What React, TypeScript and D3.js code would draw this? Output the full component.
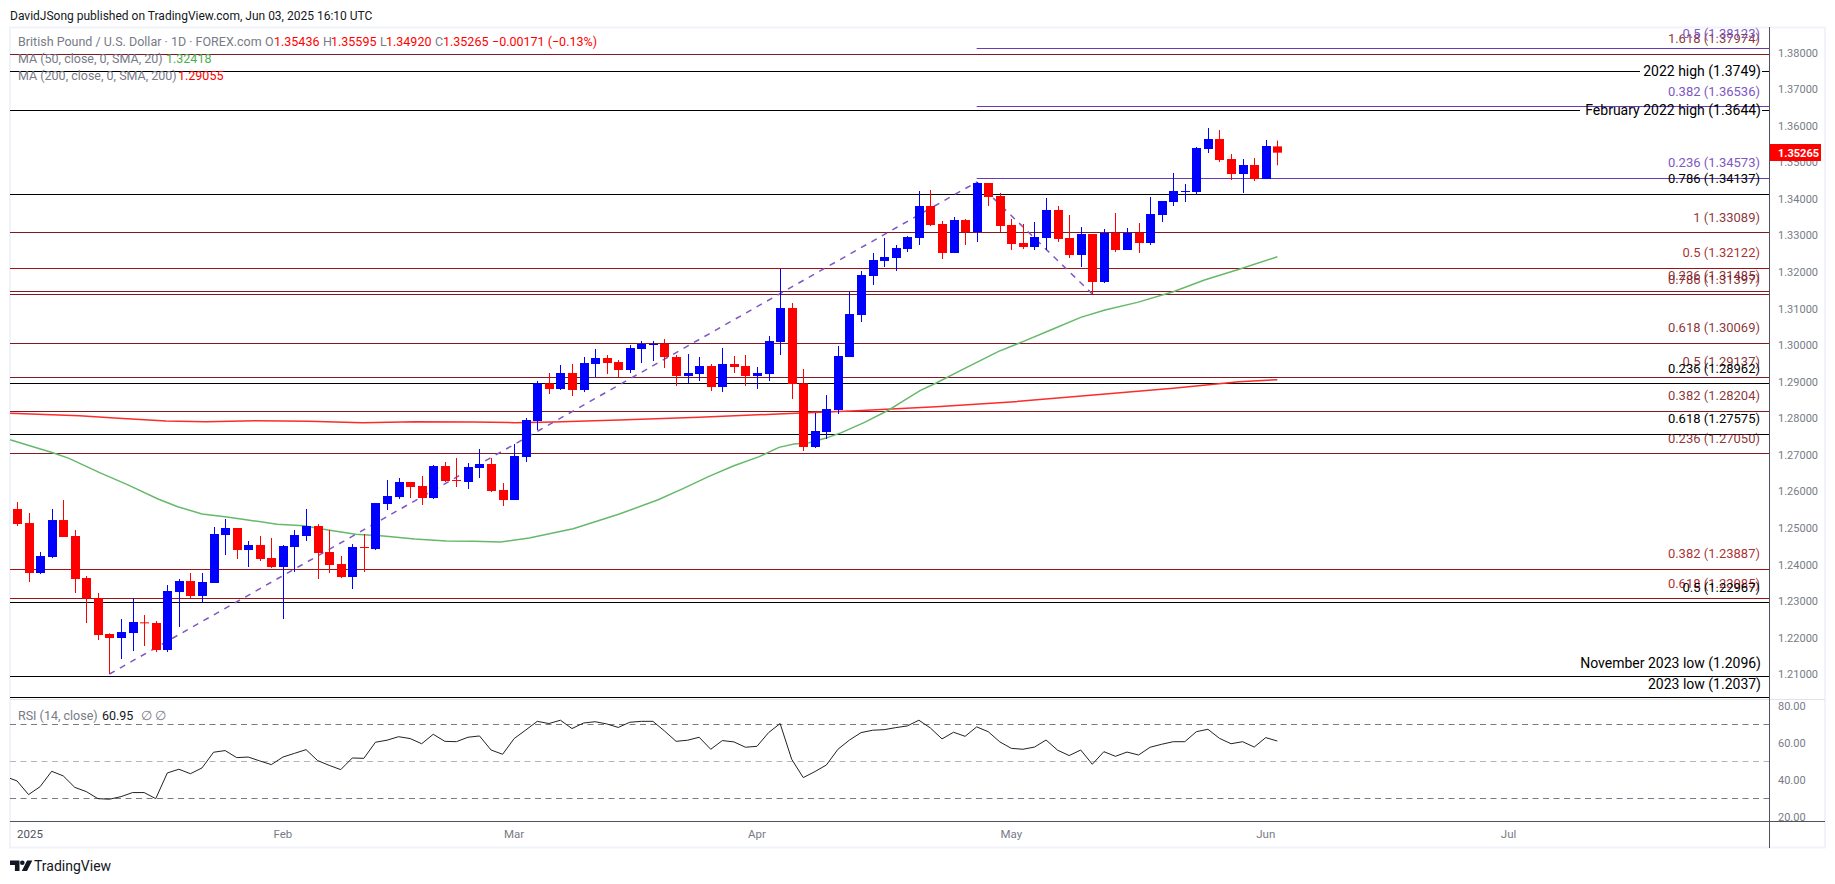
import React from 'react';
import * as d3 from 'd3';

const WIDTH = 1835;
const HEIGHT = 884;
const AXIS_X = 1769;
const BODY_W = 9;

// daily candles, Jan 2025 to Jun 03 2025
const opens = [
  1.25519, 1.25136, 1.23769, 1.24207, 1.25218, 1.24781, 1.23632, 1.23076, 1.22101, 1.21991,
  1.22128, 1.2242, 1.22402, 1.21663, 1.23249, 1.2355, 1.2314, 1.23496, 1.24808, 1.25,
  1.24398, 1.24535, 1.24179, 1.23933, 1.2448, 1.24781, 1.25054, 1.24343, 1.24015, 1.2366,
  1.2448, 1.24425, 1.25656, 1.25847, 1.26258, 1.26148, 1.2582, 1.26695, 1.26312, 1.26258,
  1.26641, 1.2675, 1.26039, 1.25765, 1.26941, 1.27926, 1.28956, 1.28801, 1.29239, 1.28774,
  1.29485, 1.29649, 1.29539, 1.29321, 1.29895, 1.30005, 1.30032, 1.29676, 1.29157, 1.29211,
  1.2943, 1.28856, 1.29485, 1.2943, 1.29157, 1.29211, 1.30087, 1.31016, 1.28956, 1.27215,
  1.27625, 1.28227, 1.29676, 1.30825, 1.31892, 1.32302, 1.32384, 1.3263, 1.32931, 1.33806,
  1.33314, 1.32521, 1.33423, 1.33095, 1.34435, 1.3408, 1.33286, 1.32794, 1.32685, 1.32931,
  1.33697, 1.32931, 1.32466, 1.3304, 1.31728, 1.33068, 1.32603, 1.33068, 1.32794, 1.3356,
  1.33915, 1.34189, 1.34189, 1.35365, 1.35638, 1.35091, 1.34681, 1.34927, 1.34544, 1.35436,
];
const highs = [
  1.25711, 1.2541, 1.24343, 1.25519, 1.25765, 1.24945, 1.23687, 1.23222, 1.22119, 1.22511,
  1.23076, 1.2262, 1.22456, 1.23441, 1.23605, 1.23769, 1.23769, 1.25027, 1.25246, 1.25,
  1.24644, 1.24781, 1.24726, 1.24535, 1.24945, 1.25519, 1.25109, 1.24945, 1.24234, 1.24562,
  1.24836, 1.25683, 1.26312, 1.26367, 1.26258, 1.26422, 1.26723, 1.26805, 1.26914, 1.26777,
  1.2716, 1.26914, 1.2623, 1.27297, 1.28008, 1.2902, 1.29239, 1.29457, 1.29485, 1.29676,
  1.29895, 1.29731, 1.29594, 1.30005, 1.30114, 1.30114, 1.30169, 1.29731, 1.29758, 1.29676,
  1.29485, 1.29922, 1.29704, 1.29731, 1.29403, 1.30251, 1.32083, 1.31153, 1.29348, 1.28145,
  1.28637, 1.29977, 1.31454, 1.32028, 1.32521, 1.32931, 1.32739, 1.32985, 1.34216, 1.34244,
  1.33396, 1.33505, 1.33451, 1.34462, 1.34435, 1.34162, 1.33451, 1.33314, 1.33369, 1.34025,
  1.33806, 1.3356, 1.33232, 1.3304, 1.33177, 1.33615, 1.33204, 1.33341, 1.34052, 1.33943,
  1.34709, 1.34408, 1.3542, 1.35939, 1.35885, 1.35228, 1.35091, 1.35119, 1.35611, 1.35595,
];
const lows = [
  1.25054, 1.23523, 1.23742, 1.24179, 1.24754, 1.23222, 1.22402, 1.21937, 1.21007, 1.21417,
  1.21636, 1.21773, 1.21608, 1.21608, 1.22292, 1.23085, 1.22958, 1.23496, 1.24261, 1.24152,
  1.23933, 1.24097, 1.23906, 1.22511, 1.23796, 1.24644, 1.23605, 1.23769, 1.23632, 1.23331,
  1.23796, 1.24398, 1.25492, 1.25793, 1.2582, 1.25629, 1.25793, 1.26258, 1.26121, 1.26066,
  1.26367, 1.25984, 1.25601, 1.25765, 1.26805, 1.2768, 1.28664, 1.28774, 1.2861, 1.28719,
  1.29129, 1.29211, 1.29129, 1.29239, 1.29512, 1.29567, 1.29376, 1.28883, 1.28956, 1.2902,
  1.28747, 1.28719, 1.29239, 1.28883, 1.28801, 1.2902, 1.29731, 1.28528, 1.27106, 1.27188,
  1.27434, 1.28118, 1.29676, 1.30634, 1.31645, 1.32138, 1.32028, 1.32548, 1.3274, 1.33259,
  1.32357, 1.32521, 1.3274, 1.32822, 1.33806, 1.33095, 1.32603, 1.3263, 1.32603, 1.32603,
  1.32822, 1.32384, 1.32138, 1.314, 1.317, 1.32548, 1.32603, 1.32521, 1.3274, 1.33369,
  1.33806, 1.33915, 1.34107, 1.35256, 1.35009, 1.34517, 1.34162, 1.3449, 1.34544, 1.3492,
];
const closes = [
  1.25109, 1.23769, 1.24234, 1.25218, 1.24754, 1.23605, 1.23076, 1.22073, 1.21991, 1.22155,
  1.22429, 1.22402, 1.21663, 1.23277, 1.2355, 1.2314, 1.23523, 1.24836, 1.25, 1.24398,
  1.24535, 1.24152, 1.23933, 1.24507, 1.24808, 1.25054, 1.24316, 1.23988, 1.2366, 1.2448,
  1.24453, 1.25683, 1.25875, 1.26258, 1.26121, 1.2582, 1.26695, 1.26285, 1.26285, 1.26668,
  1.2675, 1.26012, 1.25765, 1.26969, 1.27953, 1.28956, 1.28801, 1.29239, 1.28774, 1.29512,
  1.29649, 1.29512, 1.29321, 1.29922, 1.30032, 1.30032, 1.29676, 1.29157, 1.29239, 1.2943,
  1.28856, 1.29485, 1.29403, 1.29157, 1.29239, 1.30114, 1.31016, 1.28938, 1.27215, 1.27653,
  1.28254, 1.29704, 1.30852, 1.31919, 1.32329, 1.32411, 1.32657, 1.32958, 1.33806, 1.33286,
  1.32521, 1.33423, 1.33095, 1.34435, 1.34052, 1.33259, 1.32767, 1.32685, 1.32958, 1.33697,
  1.32904, 1.32466, 1.3304, 1.31728, 1.33068, 1.32603, 1.33068, 1.32794, 1.33587, 1.33943,
  1.34216, 1.34216, 1.35392, 1.35638, 1.35064, 1.34681, 1.34927, 1.34544, 1.35447, 1.35265,
];

// first entry sits one bar left of the first candle, cut by the pane edge
const rsiValues = [
  41.7, 39.4, 32, 36.3, 44.6, 42.1, 35.9, 33.6, 29.8, 29.5, 30.9,
  33.1, 33.1, 29.8, 43.7, 45.7, 43.3, 46.4, 54.9, 55.8, 52,
  52.3, 50.2, 48.2, 52.3, 54.3, 56.3, 50.4, 47.8, 45.5, 51.8,
  51.6, 60.3, 61.4, 63.3, 62.3, 59.5, 64.6, 60.8, 60.6, 63,
  63.7, 56.1, 53.8, 62.3, 66.9, 71.6, 70.4, 72.2, 67.7, 70.7,
  71.4, 70.2, 68.3, 71.1, 71.6, 71.6, 66.4, 60.8, 61.4, 63,
  56.5, 61.2, 60.5, 57.6, 58.1, 65.5, 70.4, 51.1, 41.2, 44.4,
  48, 56.5, 61.5, 65.5, 66.8, 67.1, 68.2, 69.1, 72.2, 68,
  62.1, 65.7, 63.5, 68.6, 66, 60.5, 57, 56.5, 57.7, 61.5,
  56, 53.1, 56.1, 48.4, 55.2, 52.7, 55, 53.4, 57.6, 59.2,
  60.6, 60.6, 66, 67.3, 62.4, 59.5, 60.6, 57.7, 62.8, 60.95,
];

const ma50Bars = [
  -0.6, 1.1, 3.1, 4.5, 7.1, 9.5, 12.2, 13.9, 16, 18, 20.4, 22.5, 24.8, 26.9, 29.3, 31.7, 34.4, 37.1, 39.5, 41.8,
  44.3, 48.1, 52.1, 55.4, 57.6, 59.8, 62, 64.2, 65.9, 67.2, 68.5, 69.9, 71.3, 73.3, 75.4, 76.7, 78.1, 79.5, 81.8,
  84.9, 87, 89.4, 92, 94.1, 96.9, 100, 102.7, 105.7, 109,
];
const ma50Values = [
  1.27415, 1.27251, 1.2706, 1.26905, 1.26522, 1.26194, 1.25793, 1.25583, 1.25383, 1.2531, 1.252, 1.251, 1.25063,
  1.24945, 1.24826, 1.24781, 1.24699, 1.24644, 1.24635, 1.24617, 1.24726, 1.24981, 1.25383, 1.25766, 1.26076,
  1.26404, 1.26704, 1.26951, 1.27206, 1.27297, 1.27334, 1.27452, 1.27607, 1.2789, 1.28227, 1.28482, 1.28756,
  1.28965, 1.29339, 1.29831, 1.30096, 1.30415, 1.30761, 1.30962, 1.31171, 1.31463, 1.31782, 1.32074, 1.32418,
];
const ma200Bars = [-0.6, 5.4, 8.8, 12.9, 16.3, 20.7, 25.2, 29.9, 34.4, 39.5, 43, 46.4, 52.1, 59, 65.8, 72.6, 79.5, 86.3, 93.1, 100, 105.7, 109];
const ma200Values = [
  1.28136, 1.28072, 1.27999, 1.27926, 1.27908, 1.27935, 1.27917, 1.2788, 1.27908, 1.27899, 1.2788, 1.27899, 1.27955,
  1.28026, 1.28118, 1.28209, 1.28318, 1.28455, 1.28637, 1.28819, 1.29002, 1.29055,
];

// dashed swing lines behind the fib levels
const swingBars = [8, 83, 93];
const swingPrices = [1.21007, 1.3446, 1.314];

const priceTicks = [1.21, 1.22, 1.23, 1.24, 1.25, 1.26, 1.27, 1.28, 1.29, 1.3, 1.31, 1.32, 1.33, 1.34, 1.35, 1.36, 1.37, 1.38];
const rsiTicks = [20, 40, 60, 80];
const rsiBands = [70, 50, 30];
const monthBars = [23, 43, 64, 86, 108, 129];
const monthLabels = ['Feb', 'Mar', 'Apr', 'May', 'Jun', 'Jul'];

const MAROON = '#801922';
const DEEP_RED = '#a31212';
const PURPLE = '#673ab7';
const BLACK = '#000000';

const levelPrices = [1.37974, 1.33089, 1.32122, 1.31485, 1.31397, 1.30069, 1.29137, 1.28204, 1.2705, 1.23887, 1.23085, 1.34137, 1.28962, 1.27575, 1.22967];
const levelTags = ['1.618', '1', '0.5', '0.236', '0.786', '0.618', '0.5', '0.382', '0.236', '0.382', '0.618', '0.786', '0.236', '0.618', '0.5'];
const levelColors = [MAROON, MAROON, DEEP_RED, MAROON, MAROON, MAROON, MAROON, MAROON, MAROON, DEEP_RED, DEEP_RED, BLACK, BLACK, BLACK, BLACK];

const extPrices = [1.38123, 1.36536, 1.34573];
const extTags = ['0.5', '0.382', '0.236'];

const namedPrices = [1.3749, 1.3644, 1.2096, 1.2037];
const namedLabels = ['2022 high (1.3749)', 'February 2022 high (1.3644)', 'November 2023 low (1.2096)', '2023 low (1.2037)'];
const namedGapStart = [1640, 1580, null, null];

const FONT = 'Roboto, sans-serif';

const x = d3.scaleLinear().domain([0, 109]).range([17, 1277.3]);
const y = d3.scaleLinear().domain([1.3749, 1.2037]).range([71.3, 697.3]);
const rsiY = d3.scaleLinear().domain([70, 30]).range([724.3, 798.3]);

const crisp = (v: number) => Math.round(v) + 0.5;

const rsiLine = d3
  .line<number>()
  .x((_, i) => x(i - 1))
  .y((d) => rsiY(d));
const maLine = (bars: number[]) =>
  d3
    .line<number>()
    .x((_, i) => x(bars[i]))
    .y((d) => y(d));

const App: React.FC = () => {
  return (
    <svg
      width={WIDTH}
      height={HEIGHT}
      viewBox={`0 0 ${WIDTH} ${HEIGHT}`}
      style={{ position: 'absolute', left: 0, top: 0, display: 'block', background: '#fff' }}
      fontFamily={FONT}
    >
      <defs>
        <clipPath id="pane">
          <rect x={10} y={27} width={AXIS_X - 10} height={794} />
        </clipPath>
      </defs>

      <text x={10} y={19.5} fontSize={12} fill="#131722">
        DavidJSong published on TradingView.com, Jun 03, 2025 16:10 UTC
      </text>

      {/* frame */}
      <rect x={10} y={27.5} width={1815} height={820} fill="none" stroke="#f0f3fa" strokeWidth={2} />

      {/* horizontal levels */}
      {levelPrices.map((p, i) => (
        <line key={`l${i}`} x1={10} x2={AXIS_X} y1={crisp(y(p))} y2={crisp(y(p))} stroke={levelColors[i]} strokeWidth={1} />
      ))}
      {extPrices.map((p, i) => (
        <line key={`e${i}`} x1={x(83)} x2={AXIS_X} y1={crisp(y(p))} y2={crisp(y(p))} stroke={PURPLE} strokeWidth={1} />
      ))}
      {namedPrices.map((p, i) => {
        const gap = namedGapStart[i];
        const yy = crisp(y(p));
        return gap === null ? (
          <line key={`n${i}`} x1={10} x2={AXIS_X} y1={yy} y2={yy} stroke={BLACK} strokeWidth={1} />
        ) : (
          <g key={`n${i}`}>
            <line x1={10} x2={gap} y1={yy} y2={yy} stroke={BLACK} strokeWidth={1} />
            <line x1={1762} x2={AXIS_X} y1={yy} y2={yy} stroke={BLACK} strokeWidth={1} />
          </g>
        );
      })}

      {/* moving averages */}
      <path d={maLine(ma200Bars)(ma200Values) ?? ''} fill="none" stroke="#ff2a2a" strokeWidth={1.5} />
      <path d={maLine(ma50Bars)(ma50Values) ?? ''} fill="none" stroke="#66b96a" strokeWidth={1.5} />

      {/* swing lines */}
      <path
        d={
          d3
            .line<number>()
            .x((_, i) => x(swingBars[i]))
            .y((d) => y(d))(swingPrices) ?? ''
        }
        fill="none"
        stroke="#7e57c2"
        strokeWidth={1.5}
        strokeDasharray="6 6"
      />

      {/* candles */}
      {closes.map((c, i) => {
        const o = opens[i];
        const color = c >= o ? '#0000ff' : '#ff0000';
        const top = y(Math.max(o, c));
        const bottom = y(Math.min(o, c));
        const cx = Math.round(x(i));
        return (
          <g key={`c${i}`} fill={color}>
            <rect x={cx} y={y(highs[i])} width={1} height={y(lows[i]) - y(highs[i])} />
            <rect x={cx - (BODY_W - 1) / 2} y={top} width={BODY_W} height={Math.max(bottom - top, 1)} />
          </g>
        );
      })}

      {/* level labels */}
      <g fontSize={13} textAnchor="end">
        {levelPrices.map((p, i) => (
          <text key={`lt${i}`} x={1760} y={y(p) - 10.5} fill={levelColors[i]} fillOpacity={levelColors[i] === BLACK ? 1 : 0.9}>
            {`${levelTags[i]} (${p.toFixed(5)})`}
          </text>
        ))}
        {extPrices.map((p, i) => (
          <text key={`et${i}`} x={1760} y={y(p) - 10.5} fill="#7e57c2">
            {`${extTags[i]} (${p.toFixed(5)})`}
          </text>
        ))}
      </g>
      <g fontSize={14} textAnchor="end">
        {namedPrices.map((p, i) => (
          <text key={`nt${i}`} x={1761} y={namedGapStart[i] === null ? y(p) - 8 : y(p) + 5} fill={BLACK}>
            {namedLabels[i]}
          </text>
        ))}
      </g>

      {/* legend */}
      <g fontSize={12.5} fill="#787b86">
        <text x={18} y={46}>British Pound / U.S. Dollar · 1D · FOREX.com</text>
        <text x={265} y={46}>O</text>
        <text x={274} y={46} fill="#ff0000">1.35436</text>
        <text x={323} y={46}>H</text>
        <text x={331} y={46} fill="#ff0000">1.35595</text>
        <text x={380} y={46}>L</text>
        <text x={386} y={46} fill="#ff0000">1.34920</text>
        <text x={435} y={46}>C</text>
        <text x={443} y={46} fill="#ff0000">1.35265</text>
        <text x={492} y={46} fill="#ff0000">−0.00171 (−0.13%)</text>
        <text x={18} y={63}>MA (50, close, 0, SMA, 20)</text>
        <text x={166} y={63} fill="#4caf50">1.32418</text>
        <text x={18} y={80}>MA (200, close, 0, SMA, 200)</text>
        <text x={178} y={80} fill="#ff0000">1.29055</text>
      </g>

      {/* price axis */}
      <g fontSize={11} fill="#787b86">
        {priceTicks.map((t) => (
          <text key={t} x={1778} y={y(t) + 4}>
            {t.toFixed(5)}
          </text>
        ))}
      </g>
      <rect x={1770} y={144} width={51} height={17} fill="#ff0000" />
      <text x={1778} y={157} fontSize={11} fontWeight={700} fill="#fff">
        {closes[closes.length - 1].toFixed(5)}
      </text>

      {/* RSI pane */}
      <line x1={10} x2={1825} y1={699.5} y2={699.5} stroke="#e0e3eb" />
      {rsiBands.map((b) => (
        <line
          key={b}
          x1={10}
          x2={AXIS_X}
          y1={crisp(rsiY(b))}
          y2={crisp(rsiY(b))}
          stroke={b === 50 ? '#b2b5be' : '#787b86'}
          strokeDasharray="6 4.5"
        />
      ))}
      <path d={rsiLine(rsiValues) ?? ''} fill="none" stroke="#222" strokeWidth={1} clipPath="url(#pane)" />
      <g fontSize={12.5}>
        <text x={18} y={720} fill="#787b86">RSI (14, close)</text>
        <text x={102} y={720} fill="#131722">60.95</text>
        <text x={141} y={720} fill="#787b86">∅</text>
        <text x={155} y={720} fill="#787b86">∅</text>
      </g>
      <g fontSize={11} fill="#787b86">
        {rsiTicks.map((t) => (
          <text key={t} x={1778} y={rsiY(t) + 4}>
            {t.toFixed(2)}
          </text>
        ))}
      </g>

      {/* axis lines */}
      <line x1={AXIS_X + 0.5} x2={AXIS_X + 0.5} y1={27} y2={848} stroke="#50535e" />
      <line x1={10} x2={1825} y1={821.5} y2={821.5} stroke="#50535e" />

      {/* time axis */}
      <g fontSize={11.5} fill="#787b86" textAnchor="middle">
        <text x={17} y={838} textAnchor="start" fill="#50535e">2025</text>
        {monthBars.map((b, i) => (
          <text key={b} x={x(b)} y={838}>
            {monthLabels[i]}
          </text>
        ))}
      </g>

      {/* logo */}
      <path d="M10 860.5h9.5v10.5h-4.6v-6h-4.9z" fill="#131722" />
      <circle cx={22.3} cy={862.8} r={2.3} fill="#131722" />
      <path d="M32.3 860.5L27 871h-5.2l5.3-10.5z" fill="#131722" />
      <text x={34} y={871} fontSize={14} fill="#131722">TradingView</text>
    </svg>
  );
};

export default App;
